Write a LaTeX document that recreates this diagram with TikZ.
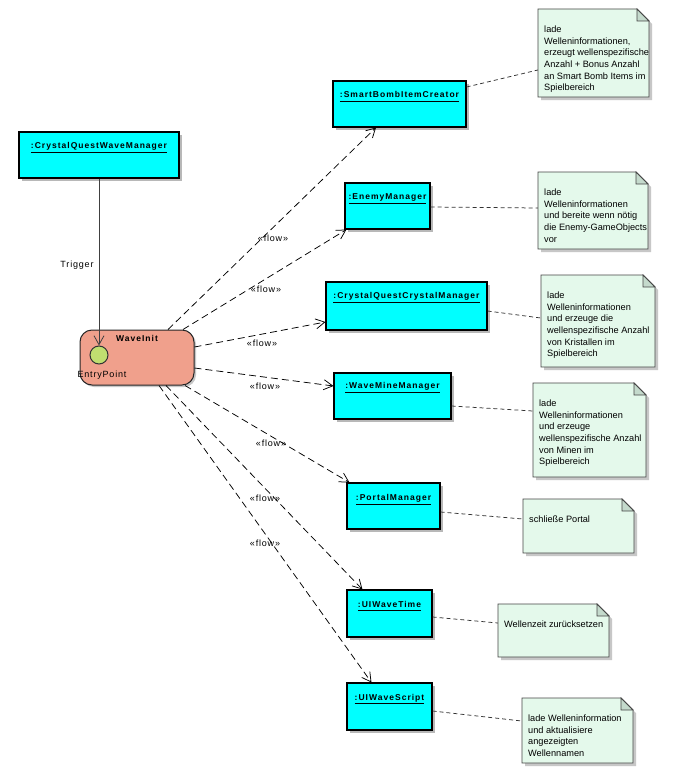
\documentclass[tikz,border=0pt]{standalone}
\usepackage{fontspec}
\setmainfont{Liberation Sans}
\newfontfamily\titlefont[LetterSpace=12]{Liberation Sans}
\newfontfamily\labelfont[LetterSpace=9]{Liberation Sans}
\usetikzlibrary{arrows.meta,shadows}

\definecolor{objcyan}{RGB}{0,255,255}
\definecolor{actsalmon}{RGB}{240,160,140}
\definecolor{entrygreen}{RGB}{192,222,112}
\definecolor{notepaper}{RGB}{228,249,235}
\definecolor{notefold}{RGB}{196,218,204}
\definecolor{noteline}{RGB}{70,70,70}

% underlined object name, rule a little below the baseline
\newcommand\objtitlebar[1]{\underline{\smash{#1}\rule[-1.8pt]{0pt}{0pt}}}

% note sheet with folded corner: name, x1, y1, x2, y2, text
\newcommand\notesheet[6]{%
  \fill[black!22] (#2+3,#3+3) -- (#4+3-12,#3+3) -- (#4+3,#3+15) -- (#4+3,#5+3) -- (#2+3,#5+3) -- cycle;
  \filldraw[notepaperstyle] (#2,#3) -- (#4-12,#3) -- (#4,#3+12) -- (#4,#5) -- (#2,#5) -- cycle;
  \filldraw[notefoldstyle] (#4-12,#3) -- (#4-12,#3+12) -- (#4,#3+12) -- cycle;
  \node[notebody, minimum width={(#4-#2)*1pt}, minimum height={(#5-#3)*1pt}] (#1) at ({(#2+#4)/2},{(#3+#5)/2}) {};
  \node[notetext, anchor=north west] (#1-text) at (#2+6,#3+16.6) {#6};
}

\begin{document}
\begin{tikzpicture}[x=1pt, y=-1pt,
  objbox/.style={draw=black, line width=1.1pt, fill=objcyan, inner sep=0pt,
    drop shadow={shadow xshift=2.5pt, shadow yshift=-2.5pt, fill=black!28, opacity=1}},
  objtitle/.style={font=\titlefont\bfseries\fontsize{8.5}{10}\selectfont, inner sep=0pt, anchor=base},
  act/.style={draw=black!85, line width=1pt, fill=actsalmon, rounded corners=12pt,
    minimum width=114pt, minimum height=55pt, inner sep=0pt,
    drop shadow={shadow xshift=2pt, shadow yshift=-2pt, fill=black!22, opacity=1}},
  entry/.style={circle, draw=black!80, line width=1pt, fill=entrygreen, minimum size=18pt, inner sep=0pt},
  lbl/.style={font=\labelfont\fontsize{9}{10}\selectfont, inner sep=0pt, text=black},
  flow/.style={draw=black, line width=0.75pt, dash pattern=on 7pt off 4pt,
    -{Straight Barb[length=9pt,width=10pt]}},
  trig/.style={draw=black!75, line width=0.8pt, -{Straight Barb[length=9pt,width=10pt]}},
  noteanchor/.style={draw=black!80, line width=0.75pt, dash pattern=on 4pt off 3pt},
  notepaperstyle/.style={fill=notepaper, draw=noteline, line width=0.8pt},
  notefoldstyle/.style={fill=notefold, draw=noteline, line width=0.8pt},
  notebody/.style={inner sep=0pt, draw=none},
  notetext/.style={font=\fontsize{9.2}{11.7}\selectfont, align=left, inner sep=0pt, text=black}]

\useasboundingbox (0,0) rectangle (700,784);
\fill[white] (0,0) rectangle (700,784);

% --- notes ---
\notesheet{n1}{538}{9}{649}{97}{lade\\Welleninformationen,\\erzeugt wellenspezifische\\Anzahl + Bonus Anzahl\\an Smart Bomb Items im\\Spielbereich}
\notesheet{n2}{538}{172}{648}{249}{lade\\Welleninformationen\\und bereite wenn nötig\\die Enemy-GameObjects\\vor}
\notesheet{n3}{541}{275}{655}{367}{lade\\Welleninformationen\\und erzeuge die\\wellenspezifische Anzahl\\von Kristallen im\\Spielbereich}
\notesheet{n4}{533}{383}{646}{477}{lade\\Welleninformationen\\und erzeuge\\wellenspezifische Anzahl\\von Minen im\\Spielbereich}
\notesheet{n5}{523}{499}{634}{553}{schließe Portal}
\notesheet{n6}{498}{604}{609}{657}{Wellenzeit zurücksetzen}
\notesheet{n7}{522}{698}{633}{763}{lade Welleninformation\\und aktualisiere\\angezeigten\\Wellennamen}

% --- object boxes ---
\node[objbox, minimum width=160pt, minimum height=46pt] (cqwm) at (99,155) {};
\node[objtitle] (cqwm-t) at (99,148.7) {\objtitlebar{:CrystalQuestWaveManager}};

\node[objbox, minimum width=133pt, minimum height=46pt] (sbic) at (399.5,104) {};
\node[objtitle] (sbic-t) at (399.5,97.7) {\objtitlebar{:SmartBombItemCreator}};

\node[objbox, minimum width=85pt, minimum height=46pt] (enemy) at (387.5,206) {};
\node[objtitle] (enemy-t) at (387.5,199.7) {\objtitlebar{:EnemyManager}};

\node[objbox, minimum width=161pt, minimum height=48pt] (cqcm) at (406.5,306) {};
\node[objtitle] (cqcm-t) at (406.5,298.7) {\objtitlebar{:CrystalQuestCrystalManager}};

\node[objbox, minimum width=117pt, minimum height=46pt] (wmm) at (392.5,396) {};
\node[objtitle] (wmm-t) at (392.5,388.5) {\objtitlebar{:WaveMineManager}};

\node[objbox, minimum width=93pt, minimum height=46pt] (portal) at (393.5,506) {};
\node[objtitle] (portal-t) at (393.5,500.5) {\objtitlebar{:PortalManager}};

\node[objbox, minimum width=85pt, minimum height=47pt] (uiwt) at (389.5,613.5) {};
\node[objtitle] (uiwt-t) at (389.5,607) {\objtitlebar{:UIWaveTime}};

\node[objbox, minimum width=85pt, minimum height=47pt] (uiws) at (389.5,706.5) {};
\node[objtitle] (uiws-t) at (389.5,700) {\objtitlebar{:UIWaveScript}};

% --- activity with entry point ---
\node[act] (wi) at (137,357.5) {};
\node[font=\titlefont\bfseries\fontsize{8.5}{10}\selectfont, inner sep=0pt] (wi-t) at (137,338) {WaveInit};
\node[entry] (ep) at (99,355) {};
\node[lbl] (ep-l) at (102,375) {EntryPoint};

% --- trigger ---
\draw[trig] (cqwm.south) -- (ep.north);
\node[lbl] (trig-l) at (77,265) {Trigger};

% --- flows ---
\draw[flow] ([xshift=31pt]wi.north) -- ([xshift=-23.5pt]sbic.south);
\draw[flow] ([xshift=46pt]wi.north) -- ([xshift=2pt]enemy.south west);
\draw[flow] ([yshift=10.5pt]wi.east) -- ([yshift=-16pt]cqcm.west);
\draw[flow] ([yshift=-10.5pt]wi.east) -- ([yshift=10pt]wmm.west);
\draw[flow] ([xshift=48pt]wi.south) -- ([xshift=3pt]portal.north west);
\draw[flow] ([xshift=29pt]wi.south) -- ([xshift=16pt]uiwt.north west);
\draw[flow] ([xshift=22pt]wi.south) -- ([xshift=25pt]uiws.north west);

\node[lbl] (f1) at (273,238) {«flow»};
\node[lbl] (f2) at (266,289) {«flow»};
\node[lbl] (f3) at (262,343) {«flow»};
\node[lbl] (f4) at (265,386) {«flow»};
\node[lbl] (f5) at (271,443) {«flow»};
\node[lbl] (f6) at (265,498) {«flow»};
\node[lbl] (f7) at (265,543) {«flow»};

% --- note anchors ---
\draw[noteanchor] ([yshift=17pt]sbic.east) -- ([yshift=-17pt]n1.west);
\draw[noteanchor] ([yshift=-1pt]enemy.east) -- ([yshift=2.5pt]n2.west);
\draw[noteanchor] ([yshift=-5pt]cqcm.east) -- ([yshift=3pt]n3.west);
\draw[noteanchor] ([yshift=-10pt]wmm.east) -- ([yshift=19pt]n4.west);
\draw[noteanchor] ([yshift=-6pt]portal.east) -- ([yshift=7pt]n5.west);
\draw[noteanchor] ([yshift=-3.5pt]uiwt.east) -- ([yshift=7.5pt]n6.west);
\draw[noteanchor] ([yshift=-4.5pt]uiws.east) -- ([yshift=9.5pt]n7.west);
\end{tikzpicture}
\end{document}
